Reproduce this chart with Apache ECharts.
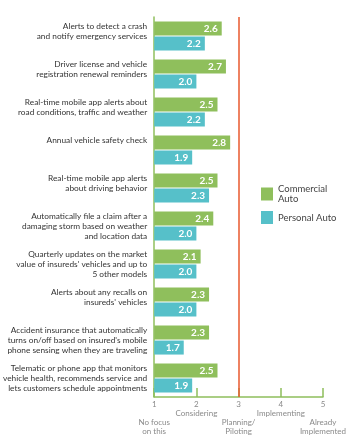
<!DOCTYPE html>
<html>
<head>
<meta charset="utf-8">
<script src="https://cdn.jsdelivr.net/npm/echarts@6/dist/echarts.min.js"></script>
<style>
  html, body { margin: 0; padding: 0; background: #fff; }
  #chart { width: 351px; height: 447px; }
</style>
</head>
<body>
<div id="chart"></div>
<script>
// categories, top to bottom
var items = [
  'Alerts to detect a crash\nand notify emergency services',
  'Driver license and vehicle\nregistration renewal reminders',
  'Real-time mobile app alerts about\nroad conditions, traffic and weather',
  'Annual vehicle safety check',
  'Real-time mobile app alerts\nabout driving behavior',
  'Automatically file a claim after a\ndamaging storm based on weather\nand location data',
  'Quarterly updates on the market\nvalue of insureds\' vehicles and up to\n5 other models',
  'Alerts about any recalls on\ninsureds\' vehicles',
  'Accident insurance that automatically\nturns on/off based on insured\'s mobile\nphone sensing when they are traveling',
  'Telematic or phone app that monitors\nvehicle health, recommends service and\nlets customers schedule appointments'
]
var commercial = [2.6, 2.7, 2.5, 2.8, 2.5, 2.4, 2.1, 2.3, 2.3, 2.5]
var personal = [2.2, 2.0, 2.2, 1.9, 2.3, 2.0, 2.0, 2.0, 1.7, 1.9]

// scale labels (even ones sit right under the numbers, odd ones one line lower)
var stages = {
  1: 'No focus\non this',
  2: 'Considering',
  3: 'Planning/\nPiloting',
  4: 'Implementing',
  5: 'Already\nImplemented'
}

var green = '#8fbf5c'
var teal = '#56c0c9'

var labelBase = {
  color: '#8a8a8a',
  fontSize: 8,
  lineHeight: 9,
  margin: 3,
  showMinLabel: true,
  showMaxLabel: true,
  hideOverlap: false
}

var mychart = echarts.init(document.getElementById('chart'))
var option = {
  animation: false,
  textStyle: { fontFamily: 'Lato, "Noto Sans", sans-serif' },
  legend: {
    orient: 'vertical',
    left: 256,
    top: 179,
    itemWidth: 12,
    itemHeight: 13,
    itemGap: 7,
    icon: 'rect',
    textStyle: { color: '#444', fontSize: 9.5, lineHeight: 10 },
    data: ['Commercial\nAuto', 'Personal Auto']
  },
  grid: { left: 154, right: 28, top: 17, bottom: 50 },
  xAxis: [
    {
      type: 'value',
      min: 1,
      max: 5,
      interval: 1,
      axisLine: { show: true, lineStyle: { color: green, width: 1.5 } },
      axisTick: { show: true, inside: true, length: 9, lineStyle: { color: green, width: 1.5 } },
      splitLine: { show: false },
      axisLabel: Object.assign({}, labelBase, {
        formatter: function (v) { return v % 2 === 0 ? v + '\n' + stages[v] : String(v) }
      })
    },
    {
      type: 'value',
      position: 'bottom',
      min: 1,
      max: 5,
      interval: 1,
      axisLine: { show: false },
      axisTick: { show: false },
      splitLine: { show: false },
      axisLabel: Object.assign({}, labelBase, {
        margin: 21,
        formatter: function (v) { return v % 2 === 1 ? stages[v] : '' }
      })
    }
  ],
  yAxis: {
    type: 'category',
    inverse: true,
    data: items,
    axisLine: { show: true, lineStyle: { color: green, width: 1.5 } },
    axisTick: { show: false },
    axisLabel: {
      color: '#333',
      fontSize: 8.3,
      lineHeight: 10,
      margin: 7,
      // pad to 3 lines so the text sits level with the top bar
      formatter: function (s) {
        var n = s.split('\n').length
        while (n < 3) { s += '\n '; n++ }
        return s
      }
    }
  },
  series: [
    {
      name: 'Commercial\nAuto',
      type: 'bar',
      xAxisIndex: 0,
      data: commercial,
      barWidth: 14,
      barGap: '8%',
      itemStyle: { color: green },
      label: {
        show: true, position: 'insideRight', distance: 4,
        color: '#fff', fontWeight: 'bold', fontSize: 10,
        formatter: function (p) { return p.value.toFixed(1) }
      },
      markLine: {
        silent: true,
        symbol: 'none',
        label: { show: false },
        lineStyle: { color: '#e8582e', width: 1.5, type: 'solid' },
        data: [{ xAxis: 3 }]
      }
    },
    {
      name: 'Personal Auto',
      type: 'bar',
      xAxisIndex: 0,
      data: personal,
      barWidth: 14,
      itemStyle: { color: teal },
      label: {
        show: true, position: 'insideRight', distance: 4,
        color: '#fff', fontWeight: 'bold', fontSize: 10,
        formatter: function (p) { return p.value.toFixed(1) }
      }
    }
  ]
}
mychart.setOption(option)
</script>
</body>
</html>
